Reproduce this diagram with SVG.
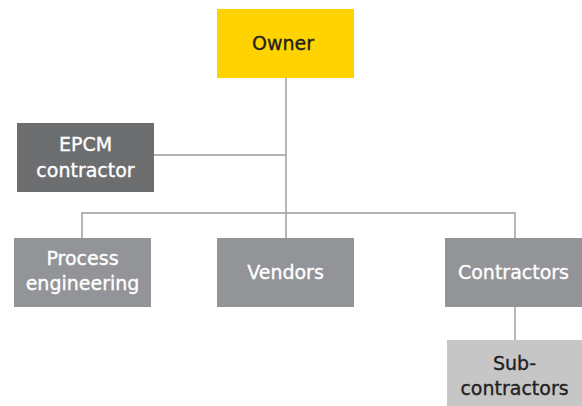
<svg xmlns="http://www.w3.org/2000/svg" width="582" height="406" viewBox="0 0 582 406">
<style>
.t{font-family:"DejaVu Sans","Liberation Sans",sans-serif;font-size:19px;text-anchor:middle;stroke-width:0.35}
.w{fill:#ffffff;stroke:#ffffff}
.d{fill:#1f1f1f;stroke:#1f1f1f}
.c{stroke:#9a9a9a;stroke-width:1.4;fill:none}
</style>
<rect width="582" height="406" fill="#ffffff"/>
<g id="connectors">
<path class="c" d="M286 77V213M154 155H286M82 238V213H515V238M286 213V238M515 306V340"/>
</g>
<g id="owner"><rect x="217" y="9" width="137" height="69" fill="#ffd300"/><text class="t d" x="283" y="50">Owner</text></g>
<g id="epcm"><rect x="17" y="123" width="137" height="69" fill="#6d6e70"/><text class="t w" x="85.5" y="151">EPCM</text><text class="t w" x="85.5" y="177">contractor</text></g>
<g id="process"><rect x="14" y="238" width="137" height="69" fill="#939497"/><text class="t w" x="82.5" y="265">Process</text><text class="t w" x="82.5" y="290">engineering</text></g>
<g id="vendors"><rect x="217" y="238" width="137" height="69" fill="#939497"/><text class="t w" x="285.5" y="279">Vendors</text></g>
<g id="contractors"><rect x="445" y="238" width="137" height="69" fill="#939497"/><text class="t w" x="513.5" y="279">Contractors</text></g>
<g id="subcontractors"><rect x="447" y="340" width="135" height="66" fill="#c6c6c7"/><text class="t d" x="514.5" y="370">Sub-</text><text class="t d" x="514.5" y="395">contractors</text></g>
</svg>
